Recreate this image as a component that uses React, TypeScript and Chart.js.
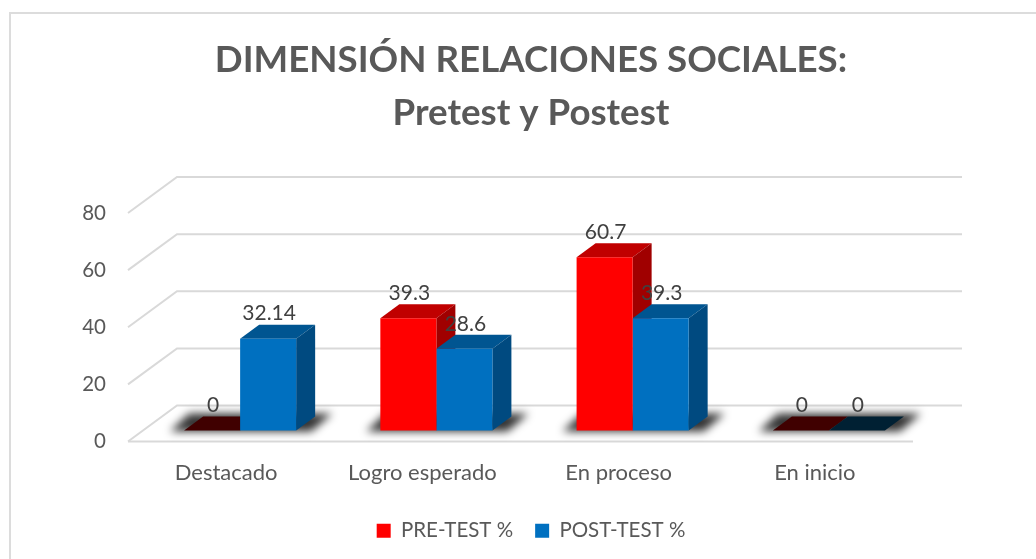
import React, { useEffect, useRef } from "react";
import { Chart, registerables } from "chart.js";

Chart.register(...registerables);

const categories = ["Destacado", "Logro esperado", "En proceso", "En inicio"];
const preTest = [0, 39.3, 60.7, 0];
const postTest = [32.14, 28.6, 39.3, 0];
const seriesNames = ["PRE-TEST %", "POST-TEST %"];
const titleLines = ["DIMENSIÓN RELACIONES SOCIALES:", "Pretest y Postest"];
const frontColors = ["#ff0000", "#0070c0"];
const topColors = ["#c00000", "#005591"];
const sideColors = ["#a00000", "#004a80"];
const zeroColors = ["#400000", "#002033"];

const FONT = "Lato";
const BAR_DX = 14;
const BAR_DY = -11;
const DEPTH_DX = 19;
const DEPTH_DY = -14;
const WALL_DX = 49;
const WALL_DY = -36;

function poly(ctx: CanvasRenderingContext2D, pts: number[][], fill: string) {
  ctx.fillStyle = fill;
  ctx.beginPath();
  pts.forEach((p, i) => (i ? ctx.lineTo(p[0], p[1]) : ctx.moveTo(p[0], p[1])));
  ctx.closePath();
  ctx.fill();
}

const threeD = {
  id: "threeD",
  beforeDraw(chart: any) {
    const { ctx, width, height } = chart;
    ctx.save();
    ctx.fillStyle = "#ffffff";
    ctx.fillRect(0, 0, width, height);
    ctx.strokeStyle = "#dcdcdc";
    ctx.lineWidth = 2;
    ctx.strokeRect(10, 13, width + 20, height + 20);
    ctx.restore();
  },
  beforeDatasetsDraw(chart: any) {
    const { ctx, chartArea, scales } = chart;
    const y = scales.y;
    ctx.save();
    ctx.strokeStyle = "#d9d9d9";
    ctx.lineWidth = 2;
    y.ticks.forEach((t: any) => {
      const py = y.getPixelForValue(t.value);
      ctx.beginPath();
      ctx.moveTo(chartArea.left, py);
      ctx.lineTo(chartArea.left + WALL_DX, py + WALL_DY);
      ctx.lineTo(chartArea.right + WALL_DX, py + WALL_DY);
      ctx.stroke();
    });
    const py0 = y.getPixelForValue(0);
    ctx.beginPath();
    ctx.moveTo(chartArea.left, py0);
    ctx.lineTo(chartArea.right, py0);
    ctx.stroke();
    ctx.restore();

    // floor shadows
    const a = chart.getDatasetMeta(0).data;
    const b = chart.getDatasetMeta(1).data;
    ctx.save();
    ctx.translate(BAR_DX, BAR_DY);
    ctx.save();
    ctx.filter = "blur(4px)";
    categories.forEach((_, i) => {
      const L = a[i].x - a[i].width / 2;
      const R = b[i].x + b[i].width / 2;
      const base = a[i].base;
      poly(
        ctx,
        [
          [L - 14, base + 1],
          [R + 15, base + 1],
          [R + 36, base - 17],
          [L + 5, base - 17],
        ],
        "rgba(0,0,0,0.8)"
      );
    });
    ctx.restore();

    // top and side faces, left series first so the right series overlaps it
    [0, 1].forEach((i) => {
      chart.getDatasetMeta(i).data.forEach((el: any) => {
        const l = el.x - el.width / 2;
        const r = el.x + el.width / 2;
        const t = el.y;
        const bt = el.base;
        const isZero = Math.abs(bt - t) < 0.5;
        poly(
          ctx,
          [
            [l, t],
            [r, t],
            [r + DEPTH_DX, t + DEPTH_DY],
            [l + DEPTH_DX, t + DEPTH_DY],
          ],
          isZero ? zeroColors[i] : topColors[i]
        );
        if (!isZero) {
          poly(
            ctx,
            [
              [r, t],
              [r + DEPTH_DX, t + DEPTH_DY],
              [r + DEPTH_DX, bt + DEPTH_DY],
              [r, bt],
            ],
            sideColors[i]
          );
        }
      });
    });
    ctx.restore();
  },
  beforeDatasetDraw(chart: any) {
    chart.ctx.save();
    chart.ctx.translate(BAR_DX, BAR_DY);
  },
  afterDatasetDraw(chart: any) {
    chart.ctx.restore();
  },
  afterDatasetsDraw(chart: any) {
    const { ctx, data } = chart;
    ctx.save();
    ctx.translate(BAR_DX, BAR_DY);
    ctx.font = `21px ${FONT}`;
    ctx.fillStyle = "#404040";
    ctx.textAlign = "center";
    ctx.textBaseline = "middle";
    data.datasets.forEach((ds: any, i: number) => {
      chart.getDatasetMeta(i).data.forEach((el: any, j: number) => {
        ctx.fillText(String(ds.data[j]), el.x + 1, el.y - 25);
      });
    });
    ctx.restore();
  },
};

export default function App() {
  const ref = useRef<HTMLCanvasElement>(null);
  useEffect(() => {
    const chart = new Chart(ref.current as HTMLCanvasElement, {
      type: "bar",
      plugins: [threeD],
      data: {
        labels: categories,
        datasets: [
          { label: seriesNames[0], data: preTest, backgroundColor: frontColors[0], borderWidth: 0 },
          { label: seriesNames[1], data: postTest, backgroundColor: frontColors[1], borderWidth: 0 },
        ],
      },
      options: {
        responsive: false,
        animation: false,
        events: [],
        layout: { padding: { left: 26, right: 0, top: 0, bottom: 8 } },
        datasets: { bar: { categoryPercentage: 0.571, barPercentage: 1, clip: false } },
        scales: {
          x: {
            grid: { display: false },
            border: { display: false },
            ticks: { color: "#595959", font: { family: FONT, size: 22 }, padding: 10, maxRotation: 0 },
            afterFit(s: any) {
              s.height = 57;
            },
          },
          y: {
            min: 0,
            max: 80,
            grid: { display: false, drawTicks: false },
            border: { display: false },
            ticks: { stepSize: 20, color: "#595959", font: { family: FONT, size: 20.5 }, padding: 22 },
            afterFit(s: any) {
              s.width = 102;
            },
          },
          y2: {
            position: "right",
            min: 0,
            max: 80,
            grid: { display: false, drawTicks: false },
            border: { display: false },
            ticks: { display: false },
            afterFit(s: any) {
              s.width = 123;
            },
          },
        },
        plugins: {
          tooltip: { enabled: false },
          title: {
            display: true,
            text: titleLines,
            color: "#595959",
            font: { family: FONT, size: 36.7, weight: "bold", lineHeight: 53 / 36.7 },
            padding: { top: 34, bottom: 73 },
          },
          legend: {
            position: "bottom",
            labels: {
              color: "#595959",
              font: { family: FONT, size: 20.5 },
              boxWidth: 14,
              boxHeight: 14,
              padding: 22,
            },
          },
        },
      },
    } as any);
    return () => chart.destroy();
  }, []);
  return (
    <div style={{ position: "fixed", left: 0, top: 0, width: 1036, height: 559 }}>
      <canvas ref={ref} width={1036} height={559} style={{ display: "block" }} />
    </div>
  );
}
